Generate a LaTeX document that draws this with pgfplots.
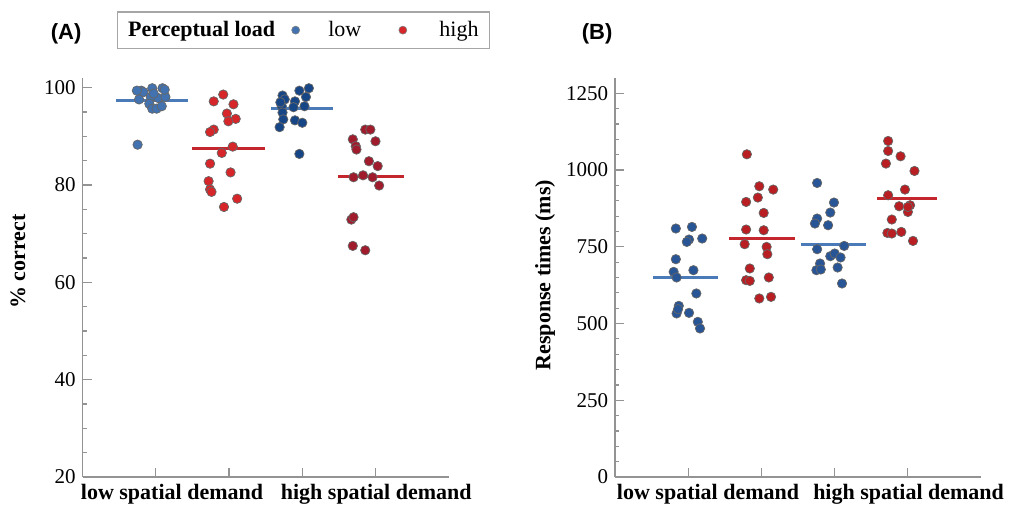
\documentclass[border=0pt]{standalone}
\usepackage{fontspec}
\setmainfont{Liberation Serif}
\newfontfamily\panelfont{Liberation Sans}
\usepackage{pgfplots}
\pgfplotsset{compat=1.18}

\definecolor{blueA}{HTML}{4272B0}
\definecolor{navyA}{HTML}{174687}
\definecolor{redA}{HTML}{D6262A}
\definecolor{darkredA}{HTML}{A01C2D}
\definecolor{blueB}{HTML}{285596}
\definecolor{redB}{HTML}{B91E23}
\definecolor{bluemean}{HTML}{4A7AB8}
\definecolor{redmean}{HTML}{C4262E}

\pgfplotsset{
  dotpanel/.style={
    scale only axis, width=183pt, height=199.5pt,
    axis lines=left,
    axis line style={-, draw=gray!85, line width=0.7pt},
    xmin=0, xmax=5,
    xtick={1,2,3,4}, xticklabels={},
    tick align=inside,
    major tick length=4.5pt, minor tick length=2pt,
    tick style={draw=gray!85, line width=0.6pt},
    extra x tick style={major tick length=0pt,
      tick label style={font=\rmfamily\fontsize{11}{13}\selectfont\bfseries}},
    yticklabel style={font=\rmfamily\fontsize{10.5}{12}\selectfont},
    /pgf/number format/assume math mode=true,
    /pgf/number format/1000 sep={},
    scaled y ticks=false,
    ylabel style={font=\rmfamily\fontsize{11}{13}\selectfont\bfseries, anchor=center},
    clip=false,
  },
  dots/.style={only marks, mark=*, mark size=2.35pt,
    mark options={fill=#1, draw=black!60, line width=0.35pt}, forget plot},
  meanline/.style={no marks, draw=#1, line width=1.5pt, forget plot},
}

\begin{document}
\begin{tikzpicture}
% page = 1009 x 511 px at 0.5pt per px, origin at panel A's axis corner
\useasboundingbox (-41.35pt,-17pt) rectangle (463.15pt,238.5pt);

% ---------------- (A) accuracy ----------------
\begin{axis}[dotpanel, at={(0,0)}, anchor=south west,
  ymin=20, ymax=102,
  ytick={20,40,60,80,100}, minor y tick num=3,
  extra x ticks={1.22,4.01},
  extra x tick labels={low spatial demand, high spatial demand},
  ylabel={\% correct},
  ylabel style={at={(axis description cs:-0.177,0.54)}},
  legend style={at={(0.603,1.12)}, anchor=center, legend columns=3,
    draw=gray!70, line width=0.6pt, font=\rmfamily\fontsize{11}{13}\selectfont,
    inner xsep=3.3pt, inner ysep=2.5pt,
    /tikz/every even column/.style={},
    /tikz/column 2/.style={column sep=6.3pt},
    /tikz/column 3/.style={column sep=12.3pt},
    /tikz/column 4/.style={column sep=16.8pt},
    /tikz/column 5/.style={column sep=14.3pt}},
]
\addplot[meanline=bluemean] coordinates {(0.46,97.4) (1.44,97.4)};
\addplot[meanline=redmean] coordinates {(1.50,87.5) (2.49,87.5)};
\addplot[meanline=bluemean] coordinates {(2.57,95.7) (3.42,95.7)};
\addplot[meanline=redmean] coordinates {(3.49,81.85) (4.39,81.85)};

% low spatial demand, low load
\addplot[dots=blueA] coordinates {
  (0.80,99.4) (0.95,99.9) (1.09,99.9) (0.83,99.1) (0.77,97.6) (0.93,98.1)
  (1.03,97.9) (1.13,98.1) (0.97,98.8) (0.91,96.7) (0.95,95.7) (1.01,95.7)
  (1.08,96.2) (0.75,88.3) (0.74,99.4) (1.12,99.6)
};
% low spatial demand, high load
\addplot[dots=redA] coordinates {
  (1.92,98.6) (1.79,97.2) (2.06,96.6) (1.97,94.7) (2.09,93.6) (1.99,93.1)
  (1.79,91.4) (1.74,90.9) (2.05,87.9) (1.90,86.6) (1.74,84.4) (2.02,82.6)
  (1.72,80.8) (1.74,79.1) (1.76,78.6) (2.11,77.2) (1.93,75.5)
};
% high spatial demand, low load
\addplot[dots=navyA] coordinates {
  (3.09,99.9) (2.96,99.4) (3.05,98.1) (2.73,98.4) (2.76,97.6) (2.90,97.2)
  (3.03,96.2) (2.88,96.0) (2.72,96.2) (2.73,94.9) (2.74,93.5) (2.90,93.3)
  (3.00,92.8) (2.69,91.9) (2.96,86.4) (2.70,97.0)
};
% high spatial demand, high load
\addplot[dots=darkredA] coordinates {
  (3.86,91.4) (3.93,91.4) (3.69,89.4) (3.73,88.0) (3.74,87.3) (4.00,89.0)
  (3.91,84.9) (4.03,83.9) (3.70,81.6) (3.83,82.0) (3.96,81.6) (4.05,79.9)
  (3.67,72.9) (3.70,73.4) (3.69,67.5) (3.86,66.6)
};

\addlegendimage{empty legend}
\addlegendentry{\textbf{Perceptual load}}
\addlegendimage{only marks, mark=*, mark size=2pt, mark options={fill=blueA, draw=black!50, line width=0.3pt}}
\addlegendentry{low}
\addlegendimage{only marks, mark=*, mark size=2pt, mark options={fill=redA, draw=black!50, line width=0.3pt}}
\addlegendentry{high}
\end{axis}

\node[font=\panelfont\bfseries\fontsize{11}{13}\selectfont] at (-8.3pt,221.5pt) {(A)};
\node[font=\panelfont\bfseries\fontsize{11}{13}\selectfont] at (257.2pt,221.5pt) {(B)};

% ---------------- (B) response times ----------------
\begin{axis}[dotpanel, at={(266.2pt,0)}, anchor=south west,
  ymin=0, ymax=1300,
  ytick={0,250,500,750,1000,1250}, minor y tick num=4,
  extra x ticks={1.27,4.01},
  extra x tick labels={low spatial demand, high spatial demand},
  ylabel={Response times (ms)},
  ylabel style={at={(axis description cs:-0.191,0.506)}},
]
\addplot[meanline=bluemean] coordinates {(0.52,649) (1.41,649)};
\addplot[meanline=redmean] coordinates {(1.56,777) (2.46,777)};
\addplot[meanline=bluemean] coordinates {(2.54,758.5) (3.43,758.5)};
\addplot[meanline=redmean] coordinates {(3.58,907) (4.40,907)};

\addplot[dots=blueB] coordinates {
  (0.83,809.6) (1.05,814.8) (1.01,773.8) (0.98,766.0) (1.19,777.0) (0.83,709.6)
  (0.80,668.3) (1.07,673.8) (0.84,650.1) (1.11,598.0) (0.87,557.6) (0.84,532.9)
  (1.01,534.8) (1.13,505.5) (1.16,484.0) (0.86,546.9)
};
\addplot[dots=redB] coordinates {
  (1.80,1051.4) (1.97,947.3) (2.16,936.5) (1.95,910.5) (1.79,896.2) (2.03,860.4)
  (1.79,806.3) (2.03,804.0) (1.77,758.5) (2.07,749.7) (2.08,725.9) (1.84,679.4)
  (1.79,641.3) (1.84,639.0) (2.10,650.1) (1.97,581.7) (2.13,586.9)
};
\addplot[dots=blueB] coordinates {
  (2.76,958.0) (2.99,894.2) (2.94,861.6) (2.76,842.1) (2.73,825.8) (2.91,820.3)
  (2.76,742.2) (3.13,752.9) (2.94,719.4) (3.00,728.2) (3.08,715.2) (2.80,695.6)
  (2.75,673.8) (2.81,676.1) (3.04,682.6) (3.10,630.5)
};
\addplot[dots=redB] coordinates {
  (3.73,1094.8) (3.73,1062.2) (3.90,1044.9) (3.70,1021.2) (4.09,997.1) (3.73,918.0)
  (3.96,936.5) (3.88,882.2) (4.03,885.4) (4.00,863.6) (3.78,838.9) (3.72,795.2)
  (3.78,793.3) (3.91,798.5) (4.07,769.2) (4.00,879.9)
};
\end{axis}
\end{tikzpicture}
\end{document}
